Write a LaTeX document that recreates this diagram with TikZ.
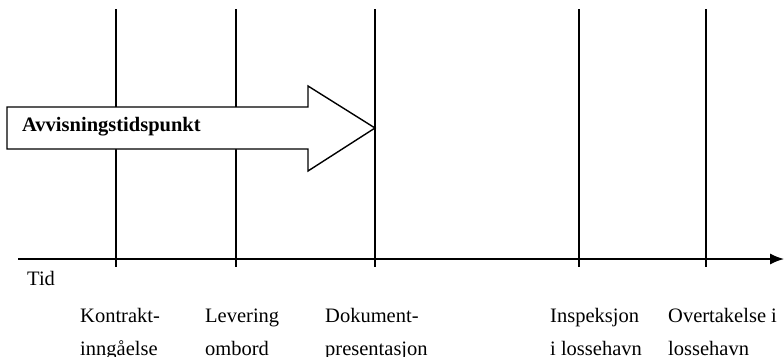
\documentclass[tikz,border=0pt]{standalone}
\usepackage{fontspec}
\setmainfont{Liberation Serif}
\usetikzlibrary{arrows.meta}
\begin{document}
\begin{tikzpicture}[x=1pt,y=-1pt,
  line/.style={line width=1.4pt,black},
  lbl/.style={anchor=base west,inner sep=0pt,font=\fontsize{20.5}{24}\selectfont},
  blbl/.style={lbl,font=\fontsize{20.5}{24}\selectfont\bfseries}]
\useasboundingbox (0,0) rectangle (784,356);
% time axis
\coordinate (a0) at (18,259);
\coordinate (a1) at (784,259);
\draw[line,-{Latex[length=14pt,width=11pt]}] (a0) -- (a1);
% vertical markers
\foreach \n/\x in {k/116,l/236,d/375,i/579,o/706}{
  \coordinate (\n t) at (\x,9);
  \coordinate (\n b) at (\x,267);
  \draw[line] (\n t) -- (\n b);
}
% big arrow
\draw[line,fill=white] (7,107) -- (308,107) -- (308,86) -- (375,128) -- (308,171) -- (308,149) -- (7,149) -- cycle;
\node[blbl] (av) at (22,131) {Avvisningstidspunkt};
% labels
\node[lbl] (tid) at (27,285) {Tid};
\node[lbl] (k1) at (80,322) {Kontrakt-};
\node[lbl] (k2) at (80,355) {inngåelse};
\node[lbl] (l1) at (205,322) {Levering};
\node[lbl] (l2) at (205,355) {ombord};
\node[lbl] (d1) at (325,322) {Dokument-};
\node[lbl] (d2) at (325,355) {presentasjon};
\node[lbl] (i1) at (550,322) {Inspeksjon};
\node[lbl] (i2) at (550,355) {i lossehavn};
\node[lbl] (o1) at (668,322) {Overtakelse i};
\node[lbl] (o2) at (668,355) {lossehavn};
\end{tikzpicture}
\end{document}
